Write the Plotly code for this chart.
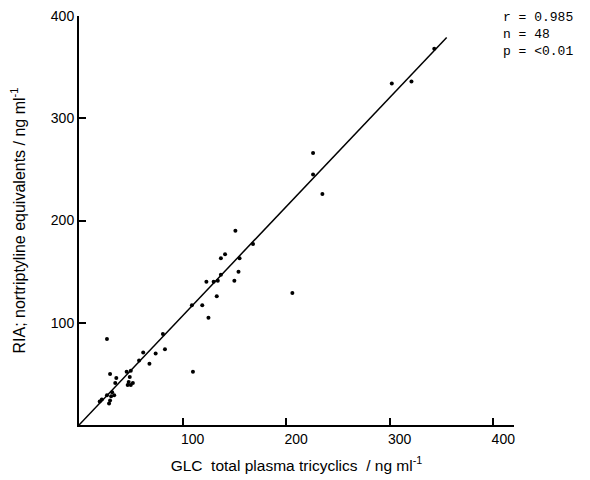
import plotly.graph_objects as go

# GLC (x) vs RIA (y), ng/ml
glc = [343, 302, 321, 226, 226, 235, 206, 151, 137, 141, 168, 155, 154, 137, 150, 123,
       130, 134, 133, 109, 119, 125, 110, 27, 81, 83, 74, 62, 58, 68, 30, 46,
       50, 36, 35, 49, 47, 50, 48, 32, 27, 22, 20, 30, 31, 34, 29, 52]
ria = [368, 334, 336, 266, 245, 226, 129, 190, 163, 167, 177, 163, 150, 147, 141, 140,
       140, 141, 126, 117, 117, 105, 52, 84, 89, 74, 70, 71, 63, 60, 50, 52,
       53, 46, 41, 47, 39, 39, 42, 32, 29, 25, 23, 24, 28, 29, 21, 41]

# regression line through origin
line_x = [0, 355]
line_y = [0, 379]

x_ticks = [100, 200, 300, 400]
y_ticks = [100, 200, 300, 400]

stats_text = "r = 0.985<br>n = 48<br>p = &lt;0.01"

font_main = "Liberation Sans"

fig = go.Figure()
fig.add_trace(go.Scatter(x=line_x, y=line_y, mode="lines",
                         line=dict(color="black", width=1.5), hoverinfo="skip"))
fig.add_trace(go.Scatter(x=glc, y=ria, mode="markers",
                         marker=dict(color="black", size=4)))

# the page body adds 8px around the plot, so size/margins are trimmed for it
fig.update_layout(
    width=582, height=472,
    margin=dict(l=71, r=76, t=8, b=55),
    paper_bgcolor="white", plot_bgcolor="white",
    showlegend=False,
    font=dict(family=font_main, size=14, color="black"),
    xaxis=dict(range=[0, 420], tickvals=x_ticks, ticks="inside", ticklen=7,
               tickwidth=1.5, tickcolor="black", showline=True, linecolor="black",
               linewidth=2, showgrid=False, zeroline=False, ticklabelshift=10,
               automargin=False, ticklabeloverflow="allow",
               title=dict(text="GLC  total plasma tricyclics  / ng ml<sup>-1</sup>",
                          standoff=14, font=dict(size=15.5))),
    yaxis=dict(range=[0, 400], tickvals=y_ticks, ticks="inside", ticklen=7,
               tickwidth=1.5, tickcolor="black", showline=True, linecolor="black",
               linewidth=2, showgrid=False, zeroline=False, automargin=False,
               ticklabeloverflow="allow",
               title=dict(text="RIA; nortriptyline equivalents / ng ml<sup>-1</sup>",
                          standoff=24, font=dict(size=16))),
    annotations=[dict(text=stats_text, xref="paper", yref="paper", x=1.0, y=1.0,
                      xshift=-13, yshift=8, xanchor="left", yanchor="top", align="left",
                      showarrow=False,
                      font=dict(family="Liberation Mono", size=13, color="black"))],
)

fig.write_html("out.html")
